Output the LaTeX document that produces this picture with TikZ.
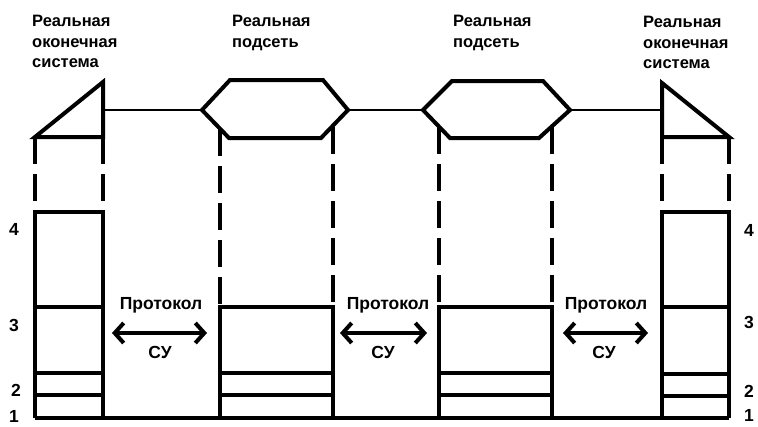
\documentclass[tikz,border=0pt]{standalone}
\usepackage{fontspec}
\setmainfont{Liberation Sans}
\usetikzlibrary{arrows.meta}
\begin{document}
\begin{tikzpicture}[x=1pt,y=-1pt,
  thk/.style={line width=3.3pt},
  hex/.style={line width=4pt, line join=miter},
  conn/.style={line width=2.6pt},
  dsh/.style={line width=3.3pt, dash pattern=on 27pt off 10pt},
  lbl/.style={font=\bfseries\fontsize{16.5}{20.5}\selectfont, align=left, anchor=north west, inner sep=0pt},
  num/.style={font=\bfseries\fontsize{17.5}{19}\selectfont, inner sep=0pt},
  proto/.style={font=\bfseries\fontsize{17.5}{18}\selectfont, inner sep=0pt},
  dbl/.style={line width=3.5pt, {Straight Barb[length=9pt,width=20pt,line width=4pt]}-{Straight Barb[length=9pt,width=20pt,line width=4pt]}}
]
\useasboundingbox (0,0) rectangle (758,426);

% titles
\node[lbl] (t1) at (32,15) {Реальная\\оконечная\\система};
\node[lbl] (t2) at (232,15) {Реальная\\подсеть};
\node[lbl] (t3) at (453,15) {Реальная\\подсеть};
\node[lbl] (t4) at (643,16) {Реальная\\оконечная\\система};

% left end system
\draw[hex] (35,137) -- (103,82) -- (103,137) -- cycle;
\draw[conn] (103,110) -- (202,110);
% subnet 1
\draw[hex] (202,110) -- (230,80) -- (323,80) -- (348,110) -- (321,138) -- (229,138) -- cycle;
\draw[conn] (348,110) -- (423,110);
% subnet 2
\draw[hex] (423,110) -- (452,81) -- (543,81) -- (570,110) -- (539,138) -- (450,138) -- cycle;
\draw[conn] (570,110) -- (662,110);
% right end system
\draw[hex] (662,83) -- (729,137) -- (662,137) -- cycle;

% dashed projections
\draw[dsh] (35,137) -- (35,212);
\draw[dsh] (103,137) -- (103,212);
\draw[dsh] (220,129) -- (220,307);
\draw[dsh] (333,127) -- (333,307);
\draw[dsh] (439,127) -- (439,307);
\draw[dsh] (552,127) -- (552,307);
\draw[dsh] (662,137) -- (662,212);
\draw[dsh] (729,137) -- (729,212);

% stacks
\draw[thk] (35,418) -- (35,212) -- (103,212) -- (103,418);
\draw[thk] (35,307) -- (103,307) (35,373) -- (103,373) (35,395) -- (103,395);
\draw[thk] (220,418) -- (220,307) -- (333,307) -- (333,418);
\draw[thk] (220,373) -- (333,373) (220,395) -- (333,395);
\draw[thk] (439,418) -- (439,307) -- (552,307) -- (552,418);
\draw[thk] (439,373) -- (552,373) (439,395) -- (552,395);
\draw[thk] (662,418) -- (662,212) -- (729,212) -- (729,418);
\draw[thk] (662,307) -- (729,307) (662,374) -- (729,374) (662,396) -- (729,396);
\draw[thk] (35,418) -- (729,418);

% layer numbers
\node[num] (l4) at (14,229) {4};
\node[num] (l3) at (14,325) {3};
\node[num] (l2) at (16,390) {2};
\node[num] (l1) at (14,416) {1};
\node[num] (r4) at (749,230) {4};
\node[num] (r3) at (749,322) {3};
\node[num] (r2) at (749,391) {2};
\node[num] (r1) at (749,415) {1};

% protocol arrows
\coordinate (a1) at (112,333); \coordinate (b1) at (207,333);
\coordinate (a2) at (340,333); \coordinate (b2) at (427,333);
\coordinate (a3) at (563,333); \coordinate (b3) at (648,333);
\draw[dbl] (a1) -- (b1);
\draw[dbl] (a2) -- (b2);
\draw[dbl] (a3) -- (b3);
\node[proto] (p1) at (161,305) {Протокол};
\node[proto] (p2) at (388,305) {Протокол};
\node[proto] (p3) at (606,305) {Протокол};
\node[proto] (s1) at (160,352) {СУ};
\node[proto] (s2) at (383,352) {СУ};
\node[proto] (s3) at (604,352) {СУ};
\end{tikzpicture}
\end{document}
